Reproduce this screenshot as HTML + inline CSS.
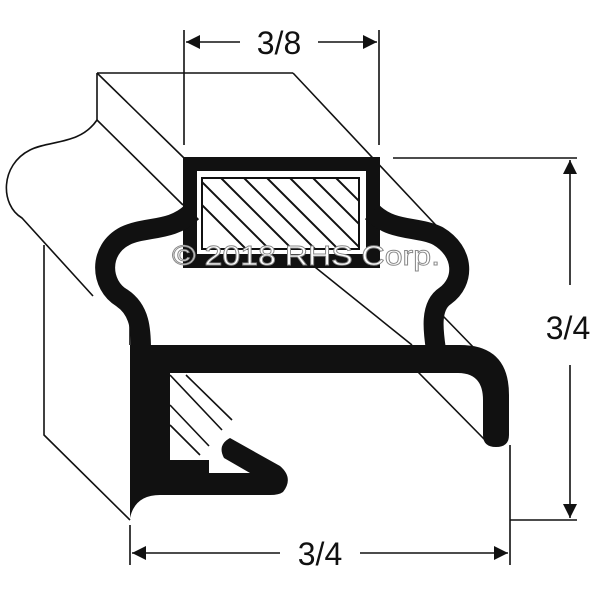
<!DOCTYPE html>
<html><head><style>html,body{margin:0;padding:0;background:#fff}svg{display:block}</style></head>
<body>
<svg width="600" height="600" viewBox="0 0 600 600" xmlns="http://www.w3.org/2000/svg">
<defs>
<clipPath id="hc"><rect x="203" y="179" width="155" height="69"/></clipPath>
<marker id="ar" viewBox="0 0 10 10" refX="10" refY="5" markerWidth="20" markerHeight="14" markerUnits="userSpaceOnUse" orient="auto"><path d="M0,0 L10,5 L0,10 Z" fill="#111"/></marker>
</defs>
<g fill="none" stroke="#111" stroke-width="1.6">
<path d="M97,73 H293"/>
<path d="M97,73 V120"/>
<path d="M97,73 L184,158"/>
<path d="M97,120 L183,205"/>
<path d="M97,120 C80,145 50,140 30,150 C0,165 0,205 22,218 L93,296"/>
<path d="M44,245 V435 L130,520"/>
<path d="M130,300 V345"/>
<path d="M293,73 L447,237"/>
<path d="M443,316 L478,352"/>
<path d="M300,255 L412,345"/>
<path d="M418,372 L485,440"/>
<path d="M184,30 V145 M379,30 V145"/>
<path d="M240,42 H186" marker-end="url(#ar)"/>
<path d="M318,42 H377" marker-end="url(#ar)"/>
<path d="M393,158 H577 M510,520 H577"/>
<path d="M570,285 V160" marker-end="url(#ar)"/>
<path d="M570,365 V518" marker-end="url(#ar)"/>
<path d="M130,525 V565 M510,445 V565"/>
<path d="M280,553 H132" marker-end="url(#ar)"/>
<path d="M360,553 H508" marker-end="url(#ar)"/>
</g>
<g font-family="Liberation Sans, sans-serif" font-size="32" fill="#111" text-anchor="middle">
<text x="279" y="54">3/8</text>
<text x="568" y="339">3/4</text>
<text x="320" y="565">3/4</text>
</g>
<rect x="190" y="164" width="183" height="97" fill="#fff" stroke="#111" stroke-width="14"/>
<rect x="202" y="178" width="157" height="71" fill="#fff" stroke="#111" stroke-width="2"/>
<g clip-path="url(#hc)" stroke="#111" stroke-width="2">
<path d="M180,160 L280,260 M203,160 L303,260 M226,160 L326,260 M249,160 L349,260 M272,160 L372,260 M295,160 L395,260 M318,160 L418,260 M341,160 L441,260 M157,160 L257,260"/>
</g>
<g fill="none" stroke="#111" stroke-width="20" stroke-linecap="butt">
<path d="M192,212 C172,232 145,226 125,236 C98,250 100,285 122,298 C140,310 141,330 141,350"/>
<path d="M372,212 C392,232 418,226 438,236 C465,252 465,282 445,296 C430,306 433,330 436,350"/>
</g>
<path fill="#111" d="M130,345 H460 Q509,345 509,395 V435 Q509,447 496,447 Q483,447 483,435 V400 Q483,373 458,373 H170 V460 H209 V473 H250 L224,458 Q217,445 230,438 L280,466 Q294,478 283,492 Q279,495 270,495 H160 Q135,495 130,518 Z"/>
<g stroke="#111" stroke-width="1.6">
<path d="M170,375 L222,430 M186,375 L232,420 M170,405 L209,446 M170,425 L200,455"/>
</g>
<text x="172" y="265" font-family="Liberation Sans, sans-serif" font-size="28" textLength="268" lengthAdjust="spacingAndGlyphs" fill="#fff" stroke="#888" stroke-width="0.9">© 2018 RHS Corp.</text>
</svg>
</body></html>
